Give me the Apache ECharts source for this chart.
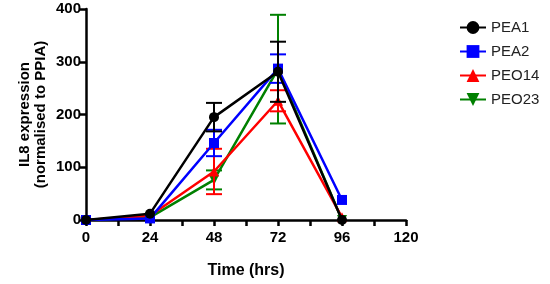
<!DOCTYPE html>
<html>
<head>
<meta charset="utf-8">
<script src="https://cdn.jsdelivr.net/npm/echarts@6/dist/echarts.min.js"></script>
<style>html,body{margin:0;padding:0;background:#fff}#main{width:550px;height:284px}</style>
</head>
<body>
<div id="main"></div>
<script>
let hours = [0, 24, 48, 72, 96]
let names = ['PEA1', 'PEA2', 'PEO14', 'PEO23']
let colors = ['#000000', '#0000ff', '#ff0000', '#008000']
let symbols = ['circle', 'rect', 'triangle', 'path://M0,0 L10,0 L5,9 Z']

let pea1 = [0, 12, 195, 281, 0]
let pea2 = [0, 3, 146, 287, 38]
let peo14 = [0, 8, 92, 226, 5]
let peo23 = [0, 5, 76, 286, 0]
let values = [pea1, pea2, peo14, peo23]

// SEM, 0 = no visible bar
let pea1Err = [0, 0, 27, 57, 0]
let pea2Err = [0, 0, 25, 27, 0]
let peo14Err = [0, 0, 43, 20, 0]
let peo23Err = [0, 0, 18, 103, 0]
let errors = [pea1Err, pea2Err, peo14Err, peo23Err]

let myChart = echarts.init(document.getElementById('main'))

let series = []
names.forEach(function (n, i) {
    series.push({
        name: n,
        type: 'line',
        data: hours.map(function (h, k) { return [h, values[i][k]] }),
        symbol: symbols[i],
        symbolSize: 10,
        color: colors[i],
        lineStyle: { width: 2.5, color: colors[i] },
        itemStyle: { color: colors[i] },
        z: 10 - i
    })
    series.push({
        name: n,
        type: 'custom',
        data: hours.map(function (h, k) { return [h, values[i][k] - errors[i][k], values[i][k] + errors[i][k]] })
            .filter(function (d, k) { return errors[i][k] > 0 }),
        z: 10 - i,
        renderItem: function (params, api) {
            let lo = api.coord([api.value(0), api.value(1)])
            let hi = api.coord([api.value(0), api.value(2)])
            let w = 8
            let style = { stroke: colors[i], lineWidth: 2 }
            return {
                type: 'group',
                children: [
                    { type: 'line', shape: { x1: lo[0], y1: lo[1], x2: hi[0], y2: hi[1] }, style: style },
                    { type: 'line', shape: { x1: lo[0] - w, y1: lo[1], x2: lo[0] + w, y2: lo[1] }, style: style },
                    { type: 'line', shape: { x1: hi[0] - w, y1: hi[1], x2: hi[0] + w, y2: hi[1] }, style: style }
                ]
            }
        }
    })
})

let option = {
    animation: false,
    textStyle: { fontFamily: 'Liberation Sans, Arial' },
    legend: {
        data: names,
        orient: 'vertical',
        left: 454,
        top: 15,
        itemGap: 9,
        itemWidth: 26,
        itemHeight: 16,
        textStyle: { fontSize: 15, color: '#222' }
    },
    grid: {
        left: 86,
        right: 144,
        top: 9,
        bottom: 63
    },
    xAxis: {
        type: 'value',
        min: 0,
        max: 120,
        interval: 24,
        name: 'Time (hrs)',
        nameLocation: 'middle',
        nameGap: 43,
        nameTextStyle: { fontSize: 16, fontWeight: 'bold', color: '#000' },
        axisLine: { lineStyle: { color: '#000', width: 2.5 } },
        axisTick: { show: true, length: 6, lineStyle: { color: '#000', width: 2.5 } },
        minorTick: { show: true, splitNumber: 2, length: 6, lineStyle: { color: '#000', width: 2.5 } },
        axisLabel: { fontSize: 15, fontWeight: 'bold', color: '#000', margin: 10 },
        splitLine: { show: false }
    },
    yAxis: {
        type: 'value',
        min: 0,
        max: 400,
        interval: 100,
        name: 'IL8 expression\n(normalised to PPIA)',
        nameLocation: 'middle',
        nameGap: 37,
        nameMoveOverlap: false,
        nameTextStyle: { fontSize: 15, fontWeight: 'bold', color: '#000', lineHeight: 16 },
        axisLine: { show: true, lineStyle: { color: '#000', width: 2.5 } },
        axisTick: { show: true, length: 6, lineStyle: { color: '#000', width: 2.5 } },
        axisLabel: { fontSize: 15, fontWeight: 'bold', color: '#000', margin: 5 },
        splitLine: { show: false }
    },
    series: series
}

myChart.setOption(option)
</script>
</body>
</html>
